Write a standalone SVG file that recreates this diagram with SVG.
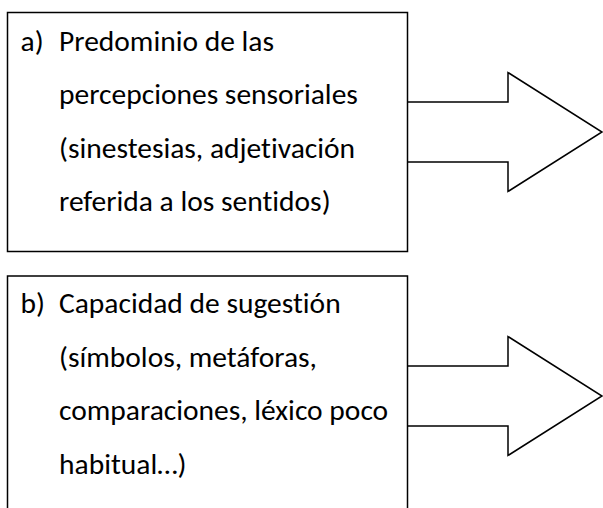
<svg xmlns="http://www.w3.org/2000/svg" width="603" height="508" viewBox="0 0 603 508">
<style>
.box{fill:#fff;stroke:#000;stroke-width:1.5}
.arrow{fill:#fff;stroke:#000;stroke-width:1.5;stroke-linejoin:miter}
.t{font-family:Carlito,Lato,"Open Sans",sans-serif;font-size:29.5px;fill:#000;font-variant-ligatures:none;font-feature-settings:"liga" 0}
</style>
<rect width="603" height="508" fill="#fff"/>
<g id="connectors">
<polyline class="arrow" points="407.5,102 508,102 508,72.5 602,132 508,191.5 508,162 407.5,162"/>
<polyline class="arrow" points="407.5,366 508,366 508,336.5 602,396 508,455.5 508,426 407.5,426"/>
</g>
<g id="node-a">
<rect class="box" x="7.5" y="12.5" width="400" height="239"/>
<text class="t" x="20.5" y="50.5">a)</text>
<text class="t" x="59" y="50.5">Predominio de las</text>
<text class="t" x="59" y="104">percepciones sensoriales</text>
<text class="t" x="59" y="157.5">(sinestesias, adjetivación</text>
<text class="t" x="59" y="211">referida a los sentidos)</text>
</g>
<g id="node-b">
<rect class="box" x="7.5" y="276" width="400" height="250"/>
<text class="t" x="20.5" y="313">b)</text>
<text class="t" x="59" y="313">Capacidad de sugestión</text>
<text class="t" x="59" y="366.5">(símbolos, metáforas,</text>
<text class="t" x="59" y="420">comparaciones, léxico poco</text>
<text class="t" x="59" y="473.5">habitual…)</text>
</g>
</svg>
